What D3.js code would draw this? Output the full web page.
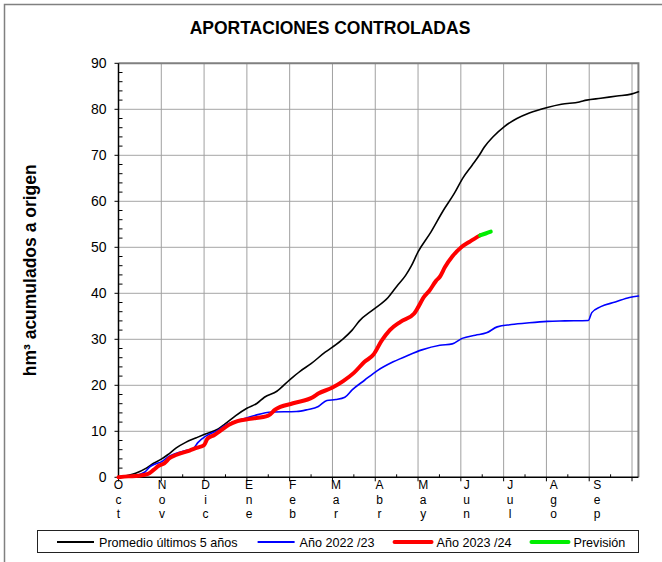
<!DOCTYPE html>
<html>
<head>
<meta charset="utf-8">
<script src="https://cdn.jsdelivr.net/npm/d3@7"></script>
<style>
  html, body { margin: 0; padding: 0; background: #fff; }
  svg { display: block; font-family: "Liberation Sans", Arial, sans-serif; }
</style>
</head>
<body>
<svg id="chart" width="662" height="562"></svg>
<script>
// Hydrological year months (Oct → Sep)
const monthLabels = ["Oct", "Nov", "Dic", "Ene", "Feb", "Mar", "Abr", "May", "Jun", "Jul", "Ago", "Sep"];
const yTicks = [0, 10, 20, 30, 40, 50, 60, 70, 80, 90];

// Cumulative inflows (hm³); x given as months elapsed since 1 Oct
const promedioMes = [0, 0.4, 0.65, 0.82, 1.01, 1.15, 1.35, 1.57, 1.82, 2.0, 2.33, 2.49, 2.74, 3.0, 3.24, 3.41, 3.7, 4.0, 4.25, 4.5, 4.83, 5.0, 5.25, 5.46, 5.63, 5.96, 6.3, 6.5, 6.71, 6.84, 7.0, 7.3, 7.59, 7.84, 8.05, 8.26, 8.43, 8.55, 8.76, 9.01, 9.31, 9.6, 10.02, 10.35, 10.77, 10.94, 11.27, 11.65, 11.98, 12.15];
const promedioVal = [0, 0.87, 2.0, 3.05, 4.0, 4.9, 6.4, 7.6, 8.6, 9.3, 10.5, 11.6, 13.4, 15.0, 16.1, 17.4, 18.7, 21.2, 23.1, 24.7, 27.2, 28.3, 30.1, 32.0, 34.0, 36.5, 39.1, 41.5, 43.9, 45.9, 49.0, 53.3, 58.0, 61.6, 65.1, 67.8, 70.0, 71.8, 74.1, 76.2, 78.0, 79.2, 80.4, 81.1, 81.6, 82.0, 82.4, 82.9, 83.3, 83.8];

const a2223Mes = [0, 0.4, 0.61, 0.74, 0.86, 1.01, 1.15, 1.32, 1.57, 1.74, 1.86, 2.03, 2.32, 2.49, 2.78, 3.16, 3.58, 4.16, 4.41, 4.67, 4.87, 5.08, 5.29, 5.46, 5.75, 6.05, 6.42, 6.76, 7.09, 7.51, 7.8, 8.03, 8.34, 8.6, 8.85, 9.18, 9.6, 10.02, 10.43, 10.98, 11.06, 11.27, 11.61, 11.94, 12.15];
const a2223Val = [0, 0.36, 1.1, 2.3, 2.9, 3.4, 4.4, 5.1, 5.8, 6.2, 7.6, 8.9, 10.2, 11.3, 12.3, 13.4, 14.2, 14.3, 14.7, 15.4, 16.7, 16.9, 17.4, 19.0, 21.1, 23.2, 25.1, 26.5, 27.7, 28.7, 29.0, 30.2, 30.9, 31.4, 32.7, 33.2, 33.6, 33.9, 34.0, 34.1, 35.8, 37.1, 38.1, 39.1, 39.4];

const a2324Mes = [0, 0.23, 0.47, 0.69, 0.82, 0.94, 1.07, 1.2, 1.36, 1.66, 1.82, 2.0, 2.08, 2.24, 2.41, 2.58, 2.78, 3.08, 3.5, 3.66, 4.08, 4.54, 4.67, 5.0, 5.25, 5.5, 5.75, 5.96, 6.15, 6.34, 6.59, 6.91, 7.01, 7.13, 7.26, 7.42, 7.51, 7.63, 7.8, 8.01, 8.22, 8.45];
const a2324Val = [0, 0.2, 0.36, 0.73, 1.6, 2.5, 3.05, 4.2, 4.9, 5.8, 6.4, 7.0, 8.4, 9.2, 10.3, 11.4, 12.2, 12.7, 13.4, 14.7, 16.1, 17.4, 18.2, 19.5, 20.9, 22.7, 25.1, 26.7, 29.7, 32.0, 33.8, 35.6, 37.1, 39.1, 40.5, 42.7, 43.6, 45.7, 48.0, 50.0, 51.3, 52.6];

const previsionMes = [8.45, 8.58, 8.7];
const previsionVal = [52.6, 53.0, 53.4];

const series = [
  { name: "Promedio últimos 5 años", mes: promedioMes, val: promedioVal, color: "#000000", width: 1.6 },
  { name: "Año 2022 /23", mes: a2223Mes, val: a2223Val, color: "#0000ff", width: 1.6 },
  { name: "Año 2023 /24", mes: a2324Mes, val: a2324Val, color: "#ff0000", width: 4 },
  { name: "Previsión", mes: previsionMes, val: previsionVal, color: "#00ee00", width: 4 }
];

const svg = d3.select("#chart");
const font = '"Liberation Sans", Arial, sans-serif';

// Outer frame
svg.append("rect")
  .attr("x", 4.5).attr("y", 4.5).attr("width", 700).attr("height", 600)
  .attr("fill", "none").attr("stroke", "#808080").attr("stroke-width", 1.5);

// Plot area geometry
const plotLeft = 118.5, plotTop = 63.3, plotBottom = 477.3;
const x = d3.scaleLinear().domain([0, 12]).range([plotLeft, 632]);
const xMax = 12.15;
const plotRight = x(xMax);
const y = d3.scaleLinear().domain([0, 90]).range([plotBottom, plotTop]);

// Title
svg.append("text")
  .attr("x", 330).attr("y", 34)
  .attr("text-anchor", "middle")
  .attr("font-size", 17.5).attr("font-weight", "bold").attr("font-family", font)
  .text("APORTACIONES CONTROLADAS");

// Y axis title
svg.append("text")
  .attr("transform", `translate(36,${(plotTop + plotBottom) / 2}) rotate(-90)`)
  .attr("text-anchor", "middle")
  .attr("font-size", 17.5).attr("font-weight", "bold").attr("font-family", font)
  .text("hm³ acumulados a origen");

// Grid
const grid = svg.append("g");
grid.selectAll("line.h").data(yTicks.filter(d => d > 0 && d < 90)).join("line")
  .attr("x1", plotLeft).attr("x2", plotRight)
  .attr("y1", d => y(d)).attr("y2", d => y(d))
  .attr("stroke", "#a6a6a6").attr("stroke-width", 1);
grid.selectAll("line.v").data(d3.range(1, 13)).join("line")
  .attr("x1", d => x(d)).attr("x2", d => x(d))
  .attr("y1", plotTop).attr("y2", plotBottom)
  .attr("stroke", "#a0a0a0").attr("stroke-width", 1);

// Plot border (top and right)
svg.append("path")
  .attr("d", `M${plotLeft},${plotTop}H${plotRight}V${plotBottom}`)
  .attr("fill", "none").attr("stroke", "#808080").attr("stroke-width", 2);

// Y axis: major ticks outside, minor ticks inside
const yAxis = svg.append("g").attr("transform", `translate(${plotLeft},0)`);
yAxis.append("line").attr("x1", 0).attr("x2", 0).attr("y1", plotTop).attr("y2", plotBottom)
  .attr("stroke", "#000").attr("stroke-width", 1.5);
yAxis.selectAll("line.major").data(yTicks).join("line")
  .attr("class", "major")
  .attr("x1", -4).attr("x2", 0).attr("y1", d => y(d)).attr("y2", d => y(d))
  .attr("stroke", "#000").attr("stroke-width", 1);
yAxis.selectAll("line.minor").data(d3.range(0, 91, 2).filter(d => d % 10 !== 0)).join("line")
  .attr("class", "minor")
  .attr("x1", 0).attr("x2", 4).attr("y1", d => y(d)).attr("y2", d => y(d))
  .attr("stroke", "#000").attr("stroke-width", 1);
yAxis.selectAll("text").data(yTicks).join("text")
  .attr("x", -12).attr("y", d => y(d)).attr("dy", "0.36em")
  .attr("text-anchor", "end")
  .attr("font-size", 14).attr("font-family", font)
  .text(d => d);

// X axis: month boundaries tick down, mid-month ticks up
const xAxis = svg.append("g").attr("transform", `translate(0,${plotBottom})`);
xAxis.append("line").attr("x1", plotLeft).attr("x2", plotRight).attr("y1", 0).attr("y2", 0)
  .attr("stroke", "#000").attr("stroke-width", 1.5);
xAxis.selectAll("line.major").data(d3.range(0, 13)).join("line")
  .attr("class", "major")
  .attr("x1", d => x(d)).attr("x2", d => x(d)).attr("y1", 0).attr("y2", 4)
  .attr("stroke", "#000").attr("stroke-width", 1);
xAxis.selectAll("line.minor").data(d3.range(0, 12).map(d => d + 0.5)).join("line")
  .attr("class", "minor")
  .attr("x1", d => x(d)).attr("x2", d => x(d)).attr("y1", 0).attr("y2", -3)
  .attr("stroke", "#000").attr("stroke-width", 1);

// Month names written vertically, one letter per row
const labelX = d3.scalePoint().domain(monthLabels).range([x(0), x(11) + 8]);
const lab = xAxis.selectAll("g.lab").data(monthLabels).join("g")
  .attr("class", "lab")
  .attr("transform", d => `translate(${labelX(d)},0)`);
lab.selectAll("text").data(d => d.split("")).join("text")
  .attr("x", 0).attr("y", (d, i) => 12 + i * 14.5)
  .attr("text-anchor", "middle")
  .attr("font-size", 12).attr("font-family", font)
  .text(d => d);

// Series lines
const line = d3.line()
  .x(d => x(d[0])).y(d => y(d[1]))
  .curve(d3.curveMonotoneX);
svg.append("g").selectAll("path").data(series).join("path")
  .attr("d", s => line(s.mes.map((m, i) => [m, s.val[i]])))
  .attr("fill", "none")
  .attr("stroke", s => s.color)
  .attr("stroke-width", s => s.width)
  .attr("stroke-linejoin", "round")
  .attr("stroke-linecap", "round");

// Legend
const lg = svg.append("g");
lg.append("rect").attr("x", 37.5).attr("y", 530.5).attr("width", 601).attr("height", 22)
  .attr("fill", "#fff").attr("stroke", "#222").attr("stroke-width", 1);
let cursor = 57;
series.forEach(s => {
  const g = lg.append("g");
  g.append("line").attr("x1", cursor).attr("x2", cursor + 37)
    .attr("y1", 542).attr("y2", 542)
    .attr("stroke", s.color).attr("stroke-width", s.width === 4 ? 4 : 2)
    .attr("stroke-linecap", s.width === 4 ? "round" : "butt");
  const t = g.append("text").attr("x", cursor + 42).attr("y", 546.5)
    .attr("font-size", 12.6).attr("font-family", font)
    .text(s.name);
  cursor += 42 + t.node().getComputedTextLength() + 20;
});
</script>
</body>
</html>
